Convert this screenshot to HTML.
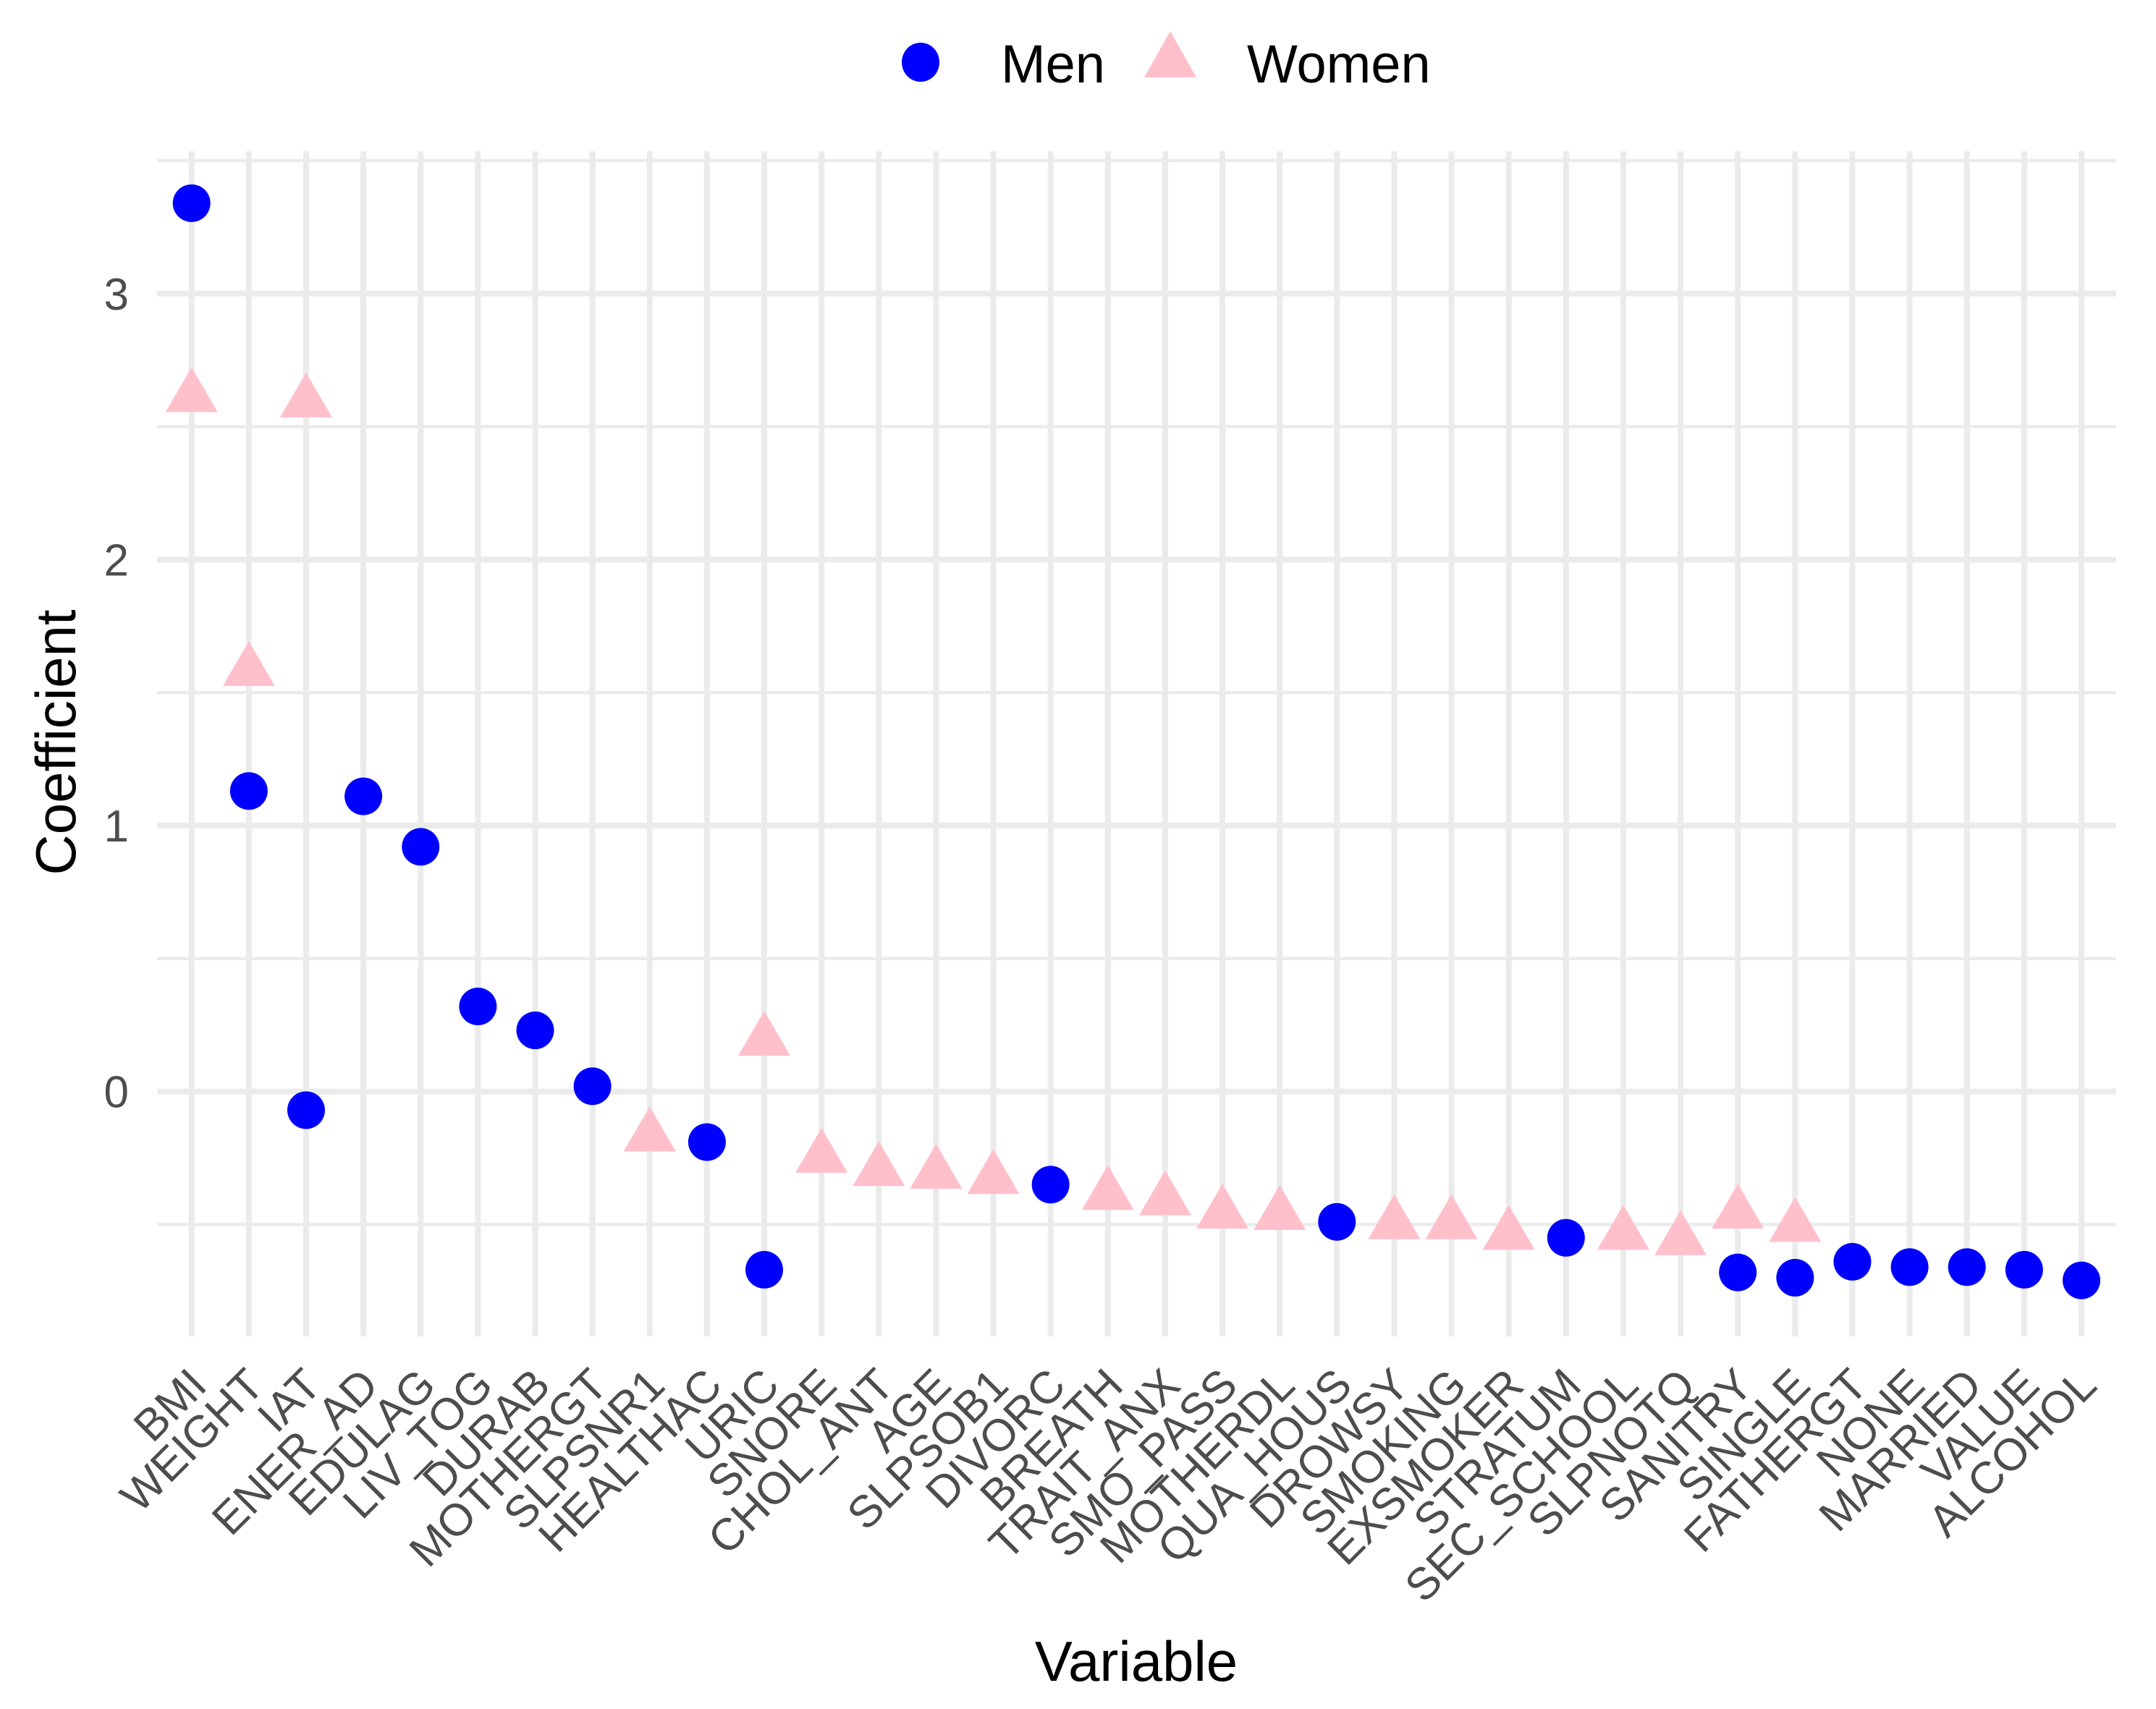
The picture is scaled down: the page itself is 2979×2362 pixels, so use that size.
<!DOCTYPE html>
<html><head><meta charset="utf-8"><style>
html,body{margin:0;padding:0;background:#fff;}
svg{display:block;font-family:"Liberation Sans",sans-serif;}
</style></head><body>
<svg id="chart" width="2979" height="2362" viewBox="0 0 2979 2362" xmlns="http://www.w3.org/2000/svg">
<rect width="2979" height="2362" fill="#fff"/>
<g id="grid"></g>
<g id="yticks"></g>
<g id="xticks"></g>
<g id="marks"></g>
<text x="0" y="0" transform="translate(104,1026) rotate(-90)" text-anchor="middle" font-size="78" fill="#000">Coefficient</text>
<text x="1570" y="2323" text-anchor="middle" font-size="78" fill="#000">Variable</text>
<g>
<g>
<ellipse cx="1272" cy="86" rx="26" ry="27" fill="#0000ff"/>
<text x="1383" y="114" font-size="74" fill="#000">Men</text>
</g>
<g>
<polygon points="1617,43 1653,107 1581,107" fill="#ffc0cb"/>
<text x="1723" y="114" font-size="74" fill="#000">Women</text>
</g>
</g>
</svg>
<script>
const categories = ["BMI","WEIGHT","IAT","ENER_AD","EDULAG","LIV_TOG","DURAB","MOTHERGT","SLPSNR1","HEALTHAC","URIC","SNORE","CHOL_ANT","AGE","SLPSOB1","DIVORC","BREATH","TRAIT_ANX","SMO_PASS","MOTHERDL","QUA_HOUS","DROWSY","SMOKING","EXSMOKER","STRATUM","SEC_SCHOOL","SLPNOTQ","SANITRY","SINGLE","FATHERGT","NONE","MARRIED","VALUE","ALCOHOL"];
const menValues = [3.34,1.13,-0.07,1.11,0.92,0.32,0.23,0.02,null,-0.19,-0.67,null,null,null,null,-0.35,null,null,null,null,-0.49,null,null,null,-0.55,null,null,-0.68,-0.70,-0.64,-0.66,-0.66,-0.67,-0.71];
const womenValues = [2.62,1.59,2.60,null,null,null,null,null,-0.16,null,0.20,-0.24,-0.29,-0.30,-0.32,null,-0.38,-0.40,-0.45,-0.455,null,-0.49,-0.49,-0.53,null,-0.53,-0.55,-0.45,-0.50,null,null,null,null,null];
const yTicks = [0,1,2,3];
const yMinor = [-0.5,0.5,1.5,2.5,3.5];

const NS = "http://www.w3.org/2000/svg";
const panelL = 217, panelR = 2924, panelT = 209, panelB = 1847;
const x0 = 264.7, dx = 79.13;
function xScale(i){ return x0 + i*dx; }
function yScale(v){ return 1508.6 - v*367.6; }
function mk(tag, attrs, parent){ const e = document.createElementNS(NS, tag); for (const k in attrs) e.setAttribute(k, attrs[k]); parent.appendChild(e); return e; }

const grid = document.getElementById('grid');
yMinor.forEach(v => {
  const l = mk('line', {x1:panelL, x2:panelR, y1:yScale(v), y2:yScale(v), stroke:'#ebebeb', 'stroke-width':4.5}, grid);
  
  
});
yTicks.forEach(v => {
  const l = mk('line', {x1:panelL, x2:panelR, y1:yScale(v), y2:yScale(v), stroke:'#ebebeb', 'stroke-width':8}, grid);
  
  
});
categories.forEach((c, i) => {
  const l = mk('line', {x1:xScale(i), x2:xScale(i), y1:panelT, y2:panelB, stroke:'#ebebeb', 'stroke-width':8}, grid);
  
  
});

const yt = document.getElementById('yticks');
yTicks.forEach(v => {
  const t = mk('text', {x:178, y:yScale(v)+22, 'text-anchor':'end', 'font-size':62, fill:'#4d4d4d'}, yt);
  t.textContent = String(v);
  
  
});

const xt = document.getElementById('xticks');
categories.forEach((c, i) => {
  const ax = xScale(i) + 24, ay = 1918;
  const t = mk('text', {x:0, y:0, transform:`translate(${ax},${ay}) rotate(-45)`, 'text-anchor':'end', 'font-size':62, fill:'#4d4d4d'}, xt);
  t.textContent = c;
  
  
});

const marks = document.getElementById('marks');
menValues.forEach((v, i) => {
  if (v === null) return;
  const e = mk('circle', {cx:xScale(i), cy:yScale(v), r:26, fill:'#0000ff'}, marks);
  
  
});
womenValues.forEach((v, i) => {
  if (v === null) return;
  const cx = xScale(i), cy = yScale(v);
  const p = mk('polygon', {points:`${cx},${cy-38} ${cx+36},${cy+24} ${cx-36},${cy+24}`, fill:'#ffc0cb'}, marks);
  
  
});
</script>
</body></html>
